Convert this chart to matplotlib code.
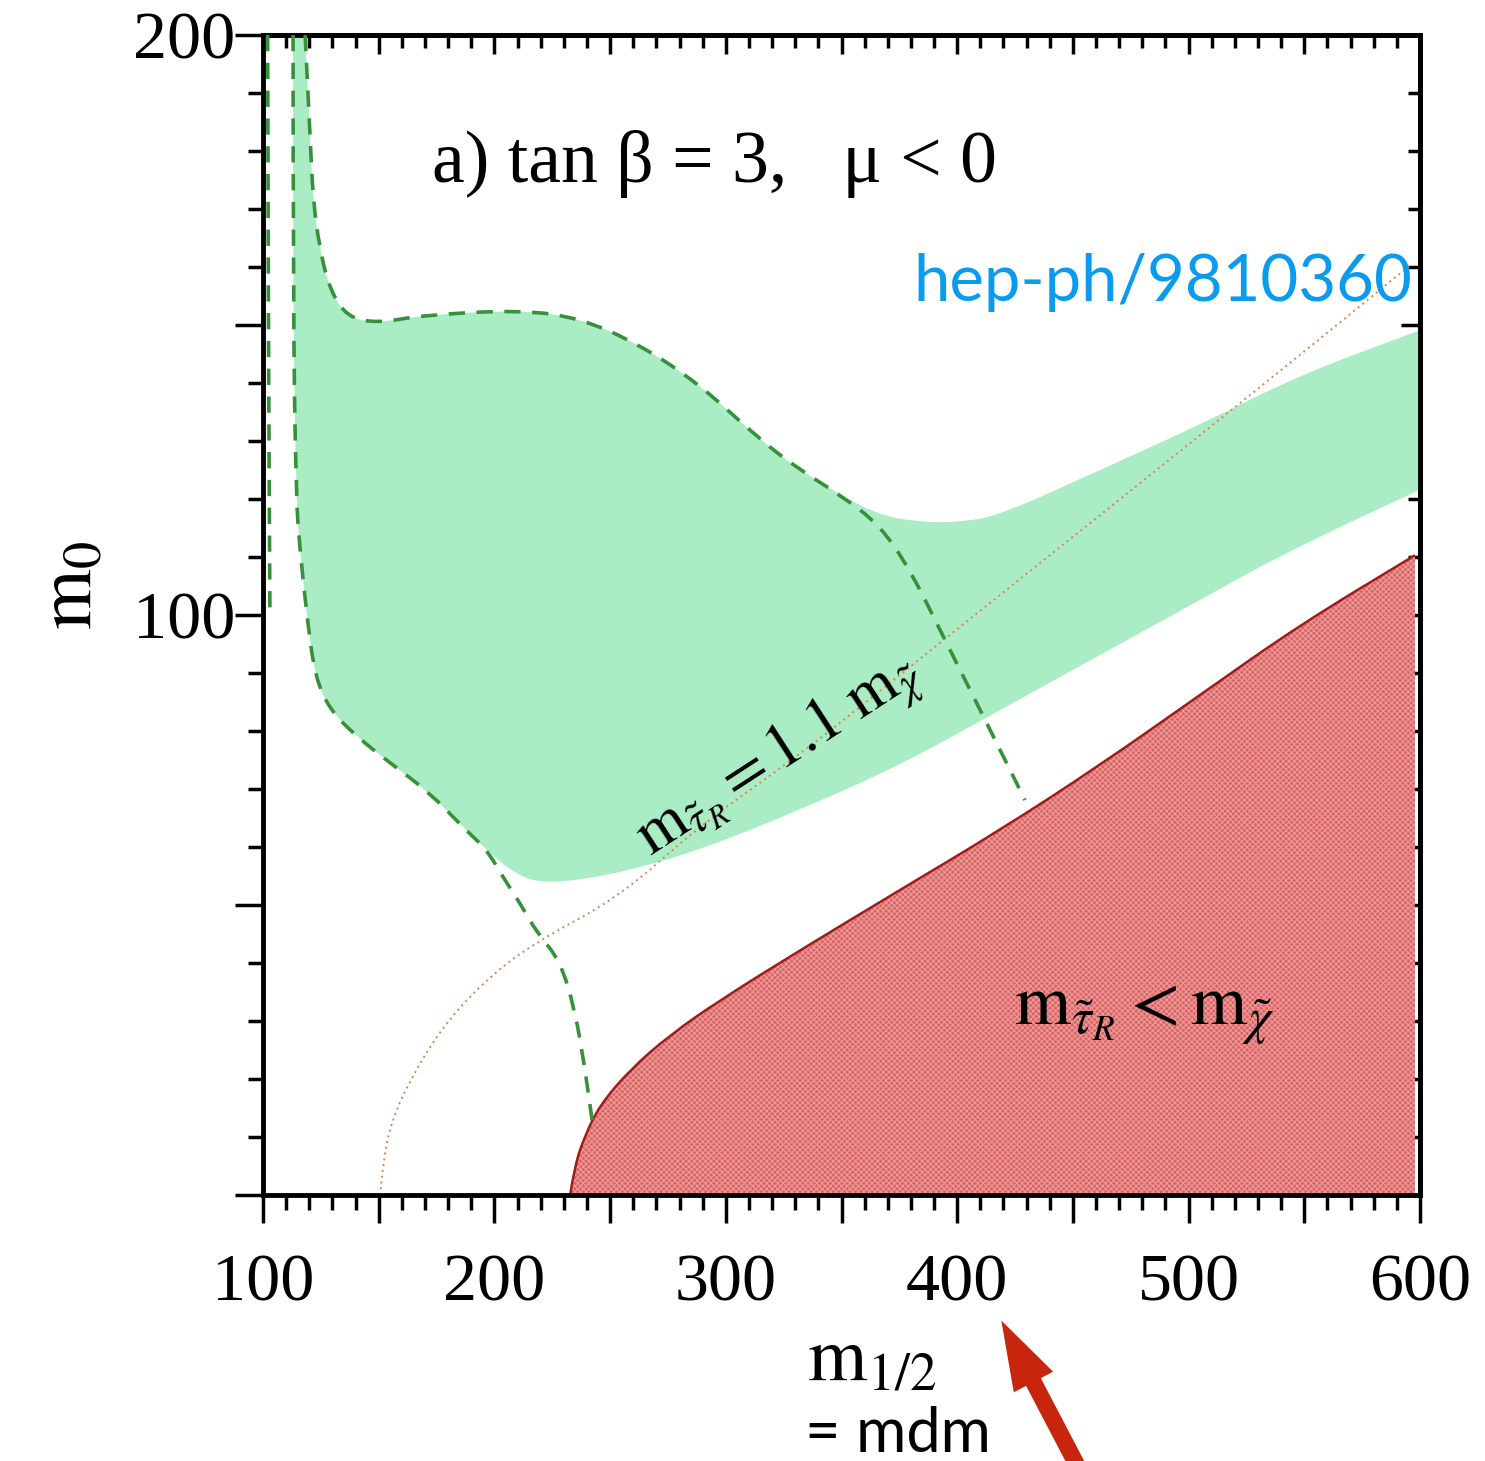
import matplotlib
matplotlib.use("Agg")
import matplotlib.pyplot as plt
from matplotlib.patches import PathPatch, FancyArrowPatch
from matplotlib.path import Path
from matplotlib.ticker import MultipleLocator, FuncFormatter

plt.rcParams["font.family"] = ["Liberation Serif", "DejaVu Serif"]
plt.rcParams["mathtext.fontset"] = "stix"
plt.rcParams["hatch.linewidth"] = 0.8

# green region: top edge, left (dashed) edge, bottom edge
green_top_x = [118.2, 120.3, 121.6, 124.6, 129.0, 136.3, 149.3, 169.1, 211.1, 237.0,
               262.9, 288.9, 314.8, 332.1, 349.4, 366.6, 383.9, 401.2, 418.5, 461.7,
               504.9, 548.1, 600.0]
green_top_y = [200.0, 183.1, 171.6, 162.9, 156.0, 151.4, 150.3, 151.7, 152.6, 151.2,
               146.6, 139.7, 130.2, 125.0, 120.7, 117.2, 116.0, 116.0, 117.2, 125.0,
               132.8, 141.4, 149.1]
green_left_x = [113.0, 113.0, 114.3, 116.0, 119.0, 122.5, 129.0, 140.6, 154.9, 172.2,
                186.4, 196.8]
green_left_y = [200.0, 154.3, 119.8, 111.2, 99.7, 89.3, 83.6, 79.0, 74.5, 69.3,
                63.4, 59.5]
green_bot_x = [196.8, 206.7, 218.4, 237.0, 258.6, 288.9, 332.1, 375.3, 418.5, 461.7,
               504.9, 548.1, 600.0]
green_bot_y = [59.5, 56.0, 53.8, 54.3, 56.0, 59.5, 66.4, 74.1, 83.6, 93.1,
               102.6, 112.1, 121.6]

# dashed contours continuing outside the green band
dash_low_x = [196.8, 203.7, 211.1, 218.4, 228.3, 234.8, 239.2, 242.2]
dash_low_y = [59.5, 54.8, 50.3, 45.2, 40.5, 31.9, 21.6, 12.9]
dash_top_x = [118.2, 120.3, 121.6, 124.6, 129.0, 136.3, 149.3, 169.1, 211.1, 237.0,
              262.9, 288.9, 314.8, 332.1, 349.4, 366.6, 379.6, 392.6, 403.4, 414.2,
              422.8, 429.3]
dash_top_y = [200.0, 183.1, 171.6, 162.9, 156.0, 151.4, 150.3, 151.7, 152.6, 151.2,
              146.6, 139.7, 130.2, 125.0, 120.7, 115.5, 107.8, 97.4, 88.8, 80.2,
              73.3, 68.1]
dash_edge_x = [102.0, 102.3, 103.0]
dash_edge_y = [200.0, 150.0, 100.0]

# excluded region m_stau < m_chi
red_x = [232.7, 234.8, 239.2, 245.6, 258.6, 275.9, 297.5, 332.1, 375.3, 418.5,
         461.7, 504.9, 548.1, 597.8]
red_y = [0.0, 5.2, 10.3, 15.5, 21.6, 27.6, 33.6, 42.2, 52.6, 62.9,
         74.1, 86.2, 98.3, 110.3]

# m_stau = 1.1 m_chi line
line_x = [150.6, 151.9, 155.7, 163.5, 176.5, 193.8, 215.4, 254.3, 288.9, 332.1,
          375.3, 414.2, 461.7, 504.9, 548.1, 595.7]
line_y = [0.0, 6.0, 12.9, 19.8, 28.4, 36.2, 43.1, 51.4, 63.8, 75.9,
          89.7, 102.1, 117.2, 131.0, 144.8, 160.3]

xticks = [100, 200, 300, 400, 500, 600]
yticks_labeled = [100, 200]


def add_smooth(verts, codes, xs, ys, start=False):
    # quadratic bezier pieces through the midpoints of the read points
    pts = list(zip(xs, ys))
    verts.append(pts[0])
    codes.append(Path.MOVETO if start else Path.LINETO)
    for i in range(1, len(pts) - 1):
        mid = ((pts[i][0] + pts[i + 1][0]) / 2, (pts[i][1] + pts[i + 1][1]) / 2)
        verts += [pts[i], mid]
        codes += [Path.CURVE3, Path.CURVE3]
    verts.append(pts[-1])
    codes.append(Path.LINETO)


def smooth_line(xs, ys):
    v, c = [], []
    add_smooth(v, c, xs, ys, start=True)
    return Path(v, c)


fig = plt.figure(figsize=(14.85, 14.61), dpi=100)
ax = fig.add_axes([263 / 1485, 266 / 1461, 1157 / 1485, 1160 / 1461])
ax.set_xlim(100, 600)
ax.set_ylim(0, 200)

green = "#aaedc4"
v, c = [], []
add_smooth(v, c, green_top_x, green_top_y, start=True)
add_smooth(v, c, green_bot_x[::-1], green_bot_y[::-1])
add_smooth(v, c, green_left_x[::-1], green_left_y[::-1])
v.append(v[0])
c.append(Path.CLOSEPOLY)
ax.add_patch(PathPatch(Path(v, c), facecolor=green, lw=0, zorder=1))

dash_kw = dict(fill=False, edgecolor="#36913a", lw=2.6, ls=(0, (4.5, 3.2)), zorder=3)
ax.add_patch(PathPatch(smooth_line(green_left_x + dash_low_x[1:], green_left_y + dash_low_y[1:]), **dash_kw))
ax.add_patch(PathPatch(smooth_line(dash_top_x, dash_top_y), **dash_kw))
ax.add_patch(PathPatch(smooth_line(dash_edge_x, dash_edge_y), **dash_kw))

v, c = [], []
add_smooth(v, c, red_x, red_y, start=True)
v += [(red_x[-1], 0.0), (red_x[0], red_y[0])]
c += [Path.LINETO, Path.CLOSEPOLY]
red_path = Path(v, c)
ax.add_patch(PathPatch(red_path, facecolor="#da6464", lw=0, zorder=1))
ax.add_patch(PathPatch(red_path, facecolor="none", edgecolor="#ec9a9a", hatch="xxxxxx", lw=0, zorder=1))
ax.add_patch(PathPatch(smooth_line(red_x, red_y), fill=False, edgecolor="#9e1c1c", lw=1.8, zorder=2))

ax.add_patch(PathPatch(smooth_line(line_x, line_y), fill=False, edgecolor="#e0804e",
                       lw=1.4, ls=(0, (1, 2)), zorder=2))

# axes styling
for s in ax.spines.values():
    s.set_linewidth(3.5)
ax.xaxis.set_major_locator(MultipleLocator(50))
ax.xaxis.set_minor_locator(MultipleLocator(10))
ax.yaxis.set_major_locator(MultipleLocator(50))
ax.yaxis.set_minor_locator(MultipleLocator(10))
ax.xaxis.set_major_formatter(FuncFormatter(lambda v, p: f"{v:.0f}" if round(v) in xticks else ""))
ax.yaxis.set_major_formatter(FuncFormatter(lambda v, p: f"{v:.0f}" if round(v) in yticks_labeled else ""))
ax.tick_params(which="major", direction="out", length=20, width=2.5, labelsize=49)
ax.tick_params(which="minor", direction="out", length=11, width=2.5)
ax.tick_params(axis="x", which="major", pad=22)
ax.tick_params(axis="y", which="major", pad=0)

top = ax.secondary_xaxis("top")
top.xaxis.set_major_locator(MultipleLocator(50))
top.xaxis.set_minor_locator(MultipleLocator(10))
top.tick_params(which="major", direction="in", length=14, width=2.5, labeltop=False)
top.tick_params(which="minor", direction="in", length=9, width=2.5)
top.spines["top"].set_linewidth(3.5)
right = ax.secondary_yaxis("right")
right.yaxis.set_major_locator(MultipleLocator(50))
right.yaxis.set_minor_locator(MultipleLocator(10))
right.tick_params(which="major", direction="in", length=14, width=2.5, labelright=False)
right.tick_params(which="minor", direction="in", length=9, width=2.5)
right.spines["right"].set_linewidth(3.5)

# labels and annotations
ax.text(0.39, 0.889, "a) tan β = 3,   μ < 0", transform=ax.transAxes,
        ha="center", va="center", fontsize=53)
ax.text(0.447, 0.378, r"$\mathrm{m}_{\tilde{\tau}_R} = 1.1\ \mathrm{m}_{\tilde{\chi}}$",
        transform=ax.transAxes, ha="center", va="center", fontsize=46, rotation=33)
ax.text(0.762, 0.155, r"$\mathrm{m}_{\tilde{\tau}_R} < \mathrm{m}_{\tilde{\chi}}$",
        transform=ax.transAxes, ha="center", va="center", fontsize=52)
fig.text(72 / 1485, 1 - 585 / 1461, r"$\mathrm{m}_0$", rotation=90,
         ha="center", va="center", fontsize=56)
fig.text(872 / 1485, 1 - 1362 / 1461, r"$\mathrm{m}_{1/2}$",
         ha="center", va="center", fontsize=55)
fig.text(1412 / 1485, 1 - 283 / 1461, "hep-ph/9810360", color="#0a9bef",
         family=["Lato", "DejaVu Sans"], ha="right", va="center", fontsize=47)
fig.text(898 / 1485, 1 - 1435 / 1461, "= mdm", color="black",
         family=["Lato", "DejaVu Sans"], ha="center", va="center", fontsize=44)
fig.patches.append(FancyArrowPatch(
    (1080 / 1485, -10 / 1461), (1000 / 1485, 1 - 1318 / 1461),
    transform=fig.transFigure, arrowstyle="simple,tail_width=0.6,head_width=1.6,head_length=2.5",
    mutation_scale=20, facecolor="#c8260c", edgecolor="none", lw=0))

fig.savefig("out.png", dpi=100)
